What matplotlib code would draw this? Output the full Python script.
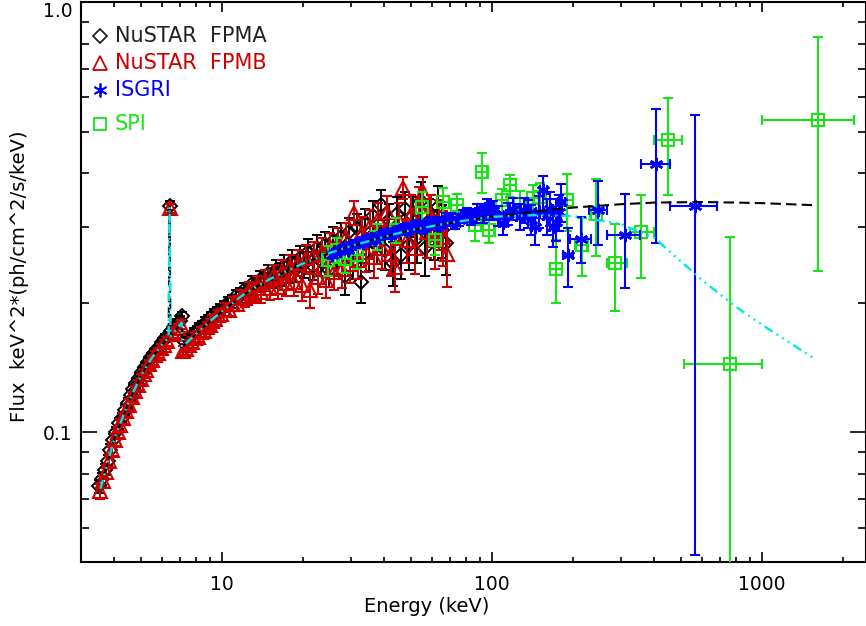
import numpy as np
import matplotlib
matplotlib.use("Agg")
import matplotlib.pyplot as plt
from matplotlib.ticker import FixedLocator, LogLocator, FuncFormatter, NullFormatter

plt.rcParams['font.family'] = 'DejaVu Sans'

# NuSTAR FPMA
fpma_e = [3.50, 3.59, 3.68, 3.77, 3.86, 3.96, 4.06, 4.16, 4.26, 4.37,
          4.48, 4.59, 4.70, 4.82, 4.94, 5.07, 5.19, 5.32, 5.46, 5.59,
          5.73, 5.88, 6.02, 6.17, 6.40, 6.49, 6.65, 6.81, 6.98, 7.10,
          7.30, 7.48, 7.67, 7.86, 8.06, 8.26, 8.47, 8.68, 8.90, 9.12,
          9.35, 9.58, 9.82,
          10.16, 10.52, 10.88, 11.26, 11.66, 12.07, 12.49, 12.93, 13.38, 13.85,
          14.33, 14.83, 15.35, 15.89, 16.45, 17.02, 17.62, 18.23, 18.87, 19.53,
          20.22, 20.92, 21.66, 22.41, 23.20, 24.01, 24.85, 25.72, 26.62, 27.55,
          28.52, 29.51, 30.55, 31.62, 32.72, 33.87, 35.05, 36.28, 37.55, 38.87,
          40.23, 41.63, 43.09, 44.60, 46.16, 47.78, 49.45, 51.18, 52.97, 54.82,
          56.74, 58.73, 60.78, 62.91, 65.11, 67.39]
fpma_f = [0.075, 0.078, 0.082, 0.086, 0.091, 0.096, 0.100, 0.105, 0.108, 0.113,
          0.117, 0.122, 0.126, 0.130, 0.134, 0.138, 0.142, 0.146, 0.150, 0.153,
          0.156, 0.159, 0.162, 0.166, 0.336, 0.172, 0.176, 0.179, 0.182, 0.186,
          0.162, 0.165, 0.167, 0.170, 0.172, 0.175, 0.177, 0.180, 0.182, 0.185,
          0.188, 0.190, 0.193,
          0.196, 0.200, 0.202, 0.207, 0.208, 0.214, 0.213, 0.221, 0.219, 0.226,
          0.224, 0.233, 0.228, 0.239, 0.233, 0.244, 0.237, 0.250, 0.240, 0.254,
          0.246, 0.263, 0.244, 0.268, 0.250, 0.272, 0.238, 0.279, 0.252, 0.284,
          0.231, 0.292, 0.250, 0.298, 0.224, 0.305, 0.262, 0.318, 0.272, 0.338,
          0.266, 0.312, 0.248, 0.322, 0.258, 0.330, 0.272, 0.318, 0.283, 0.345,
          0.268, 0.310, 0.290, 0.334, 0.296, 0.276]
fpma_err = [0.0025, 0.0025, 0.0025, 0.0025, 0.003, 0.003, 0.003, 0.003, 0.003, 0.003,
            0.003, 0.003, 0.003, 0.003, 0.003, 0.003, 0.003, 0.003, 0.003, 0.003,
            0.003, 0.003, 0.0035, 0.0035, 0.008, 0.0035, 0.0035, 0.004, 0.004, 0.004,
            0.004, 0.004, 0.004, 0.0045, 0.0045, 0.0045, 0.005, 0.005, 0.005, 0.005,
            0.0055, 0.0055, 0.006,
            0.006, 0.0065, 0.007, 0.0075, 0.008, 0.0085, 0.009, 0.0095, 0.010, 0.011,
            0.011, 0.012, 0.012, 0.013, 0.014, 0.014, 0.015, 0.016, 0.016, 0.017,
            0.017, 0.018, 0.018, 0.019, 0.019, 0.020, 0.020, 0.021, 0.021, 0.022,
            0.022, 0.023, 0.023, 0.024, 0.024, 0.025, 0.025, 0.026, 0.026, 0.027,
            0.027, 0.028, 0.029, 0.030, 0.031, 0.032, 0.033, 0.034, 0.035, 0.036,
            0.037, 0.038, 0.039, 0.040, 0.042, 0.044]

# NuSTAR FPMB
fpmb_e = [3.54, 3.63, 3.72, 3.82, 3.91, 4.01, 4.11, 4.21, 4.31, 4.42,
          4.53, 4.65, 4.76, 4.88, 5.00, 5.13, 5.25, 5.39, 5.52, 5.66,
          5.80, 5.95, 6.09, 6.24, 6.40, 6.57, 6.73, 6.89, 7.06, 7.20,
          7.39, 7.57, 7.76, 7.96, 8.16, 8.36, 8.57, 8.78, 9.01, 9.23,
          9.46, 9.70, 9.94,
          10.28, 10.64, 11.01, 11.40, 11.80, 12.21, 12.64, 13.08, 13.54, 14.01,
          14.50, 15.01, 15.54, 16.08, 16.64, 17.23, 17.83, 18.45, 19.10, 19.77,
          20.46, 21.17, 21.92, 22.68, 23.48, 24.30, 25.15, 26.03, 26.94, 27.88,
          28.86, 29.87, 30.91, 31.99, 33.11, 34.28, 35.47, 36.71, 38.00, 39.33,
          40.71, 42.13, 43.61, 45.13, 46.71, 48.35, 50.04, 51.79, 53.60, 55.48,
          57.42, 59.43, 61.51, 63.66, 65.89, 68.20]
fpmb_f = [0.073, 0.077, 0.081, 0.086, 0.091, 0.096, 0.100, 0.104, 0.108, 0.112,
          0.116, 0.121, 0.125, 0.129, 0.133, 0.137, 0.140, 0.144, 0.147, 0.151,
          0.153, 0.157, 0.160, 0.163, 0.332, 0.169, 0.172, 0.175, 0.178, 0.155,
          0.156, 0.160, 0.162, 0.166, 0.167, 0.171, 0.172, 0.176, 0.178, 0.182,
          0.183, 0.187, 0.188,
          0.193, 0.193, 0.199, 0.199, 0.206, 0.205, 0.214, 0.210, 0.220, 0.212,
          0.226, 0.216, 0.232, 0.218, 0.236, 0.222, 0.242, 0.224, 0.248, 0.220,
          0.254, 0.214, 0.258, 0.230, 0.263, 0.226, 0.270, 0.236, 0.276, 0.240,
          0.284, 0.246, 0.324, 0.252, 0.292, 0.262, 0.302, 0.255, 0.314, 0.268,
          0.326, 0.260, 0.242, 0.310, 0.370, 0.280, 0.322, 0.268, 0.336, 0.362,
          0.292, 0.318, 0.280, 0.306, 0.285, 0.260]
fpmb_err = [0.0028, 0.0028, 0.003, 0.003, 0.003, 0.003, 0.003, 0.0032, 0.0032, 0.0032,
            0.0034, 0.0034, 0.0034, 0.0035, 0.0035, 0.0035, 0.0036, 0.0036, 0.0036, 0.0037,
            0.0037, 0.0038, 0.0038, 0.0039, 0.008, 0.004, 0.004, 0.004, 0.0042, 0.0042,
            0.0044, 0.0044, 0.0046, 0.0046, 0.0048, 0.0048, 0.005, 0.005, 0.0052, 0.0054,
            0.0056, 0.0058, 0.006,
            0.0065, 0.007, 0.0075, 0.008, 0.0085, 0.009, 0.0095, 0.010, 0.011, 0.012,
            0.012, 0.013, 0.013, 0.014, 0.015, 0.015, 0.016, 0.017, 0.017, 0.018,
            0.018, 0.019, 0.019, 0.020, 0.020, 0.021, 0.021, 0.022, 0.022, 0.023,
            0.023, 0.024, 0.021, 0.025, 0.025, 0.026, 0.026, 0.027, 0.027, 0.028,
            0.028, 0.029, 0.030, 0.031, 0.022, 0.033, 0.034, 0.035, 0.036, 0.030,
            0.038, 0.039, 0.040, 0.041, 0.042, 0.042]

# INTEGRAL ISGRI
isgri_e = [25.5, 26.4, 27.3, 28.2, 29.2, 30.2, 31.2, 32.3, 33.4, 34.5,
           35.7, 36.9, 38.2, 39.5, 40.9, 42.3, 43.8, 45.3, 46.9, 48.5,
           50.2, 51.9, 53.7, 55.6, 57.5, 59.5, 61.5, 63.6, 65.8, 68.0,
           70.4, 72.8, 75.3, 77.9, 80.6, 83.4, 86.2, 88.3, 90.5, 93.0,
           95.8, 98.2, 101, 105, 110, 115, 120, 127, 131, 136,
           140, 145, 150, 155, 160, 164, 168, 173, 177, 181,
           192, 214, 248, 312, 405, 566]
isgri_f = [0.258, 0.262, 0.264, 0.268, 0.266, 0.272, 0.274, 0.277, 0.276, 0.281,
           0.283, 0.280, 0.286, 0.289, 0.291, 0.287, 0.292, 0.296, 0.298, 0.294,
           0.299, 0.303, 0.303, 0.298, 0.304, 0.309, 0.309, 0.303, 0.308, 0.314,
           0.313, 0.307, 0.312, 0.318, 0.322, 0.315, 0.318, 0.326, 0.326, 0.320,
           0.334, 0.327, 0.328, 0.318, 0.306, 0.322, 0.331, 0.317, 0.329, 0.322,
           0.312, 0.300, 0.326, 0.365, 0.318, 0.331, 0.300, 0.308, 0.325, 0.343,
           0.258, 0.282, 0.328, 0.287, 0.420, 0.335]
isgri_lo = [0.004, 0.004, 0.004, 0.004, 0.004, 0.005, 0.005, 0.005, 0.005, 0.005,
            0.005, 0.005, 0.005, 0.006, 0.006, 0.006, 0.006, 0.006, 0.006, 0.007,
            0.007, 0.007, 0.007, 0.008, 0.008, 0.008, 0.008, 0.009, 0.009, 0.009,
            0.010, 0.010, 0.010, 0.011, 0.011, 0.012, 0.012, 0.013, 0.013, 0.014,
            0.014, 0.015, 0.016, 0.017, 0.018, 0.019, 0.020, 0.022, 0.022, 0.024,
            0.025, 0.027, 0.028, 0.040, 0.030, 0.030, 0.030, 0.030, 0.032, 0.034,
            0.040, 0.035, 0.056, 0.070, 0.145, 0.283]
isgri_hi = [0.004, 0.004, 0.004, 0.004, 0.004, 0.005, 0.005, 0.005, 0.005, 0.005,
            0.005, 0.005, 0.005, 0.006, 0.006, 0.006, 0.006, 0.006, 0.006, 0.007,
            0.007, 0.007, 0.007, 0.008, 0.008, 0.008, 0.008, 0.009, 0.009, 0.009,
            0.010, 0.010, 0.010, 0.011, 0.011, 0.012, 0.012, 0.013, 0.013, 0.014,
            0.014, 0.015, 0.016, 0.017, 0.018, 0.019, 0.020, 0.022, 0.022, 0.024,
            0.025, 0.027, 0.028, 0.030, 0.030, 0.030, 0.030, 0.040, 0.032, 0.034,
            0.040, 0.035, 0.056, 0.072, 0.143, 0.211]
isgri_xlo = [0.4, 0.4, 0.4, 0.5, 0.5, 0.5, 0.5, 0.5, 0.5, 0.6,
             0.6, 0.6, 0.6, 0.6, 0.7, 0.7, 0.7, 0.7, 0.8, 0.8,
             0.8, 0.8, 0.9, 0.9, 0.9, 1.0, 1.0, 1.0, 1.1, 1.1,
             1.1, 1.2, 1.2, 1.3, 1.3, 1.4, 1.4, 1.4, 1.5, 1.5,
             1.6, 1.6, 1.7, 2.0, 2.5, 2.5, 3.0, 3.0, 3.0, 3.5,
             3.5, 4.0, 4.0, 4.5, 4.5, 4.5, 4.5, 5.0, 5.0, 5.0,
             8.0, 19, 19, 44, 49, 110]
isgri_xhi = [0.4, 0.4, 0.4, 0.5, 0.5, 0.5, 0.5, 0.5, 0.5, 0.6,
             0.6, 0.6, 0.6, 0.6, 0.7, 0.7, 0.7, 0.7, 0.8, 0.8,
             0.8, 0.8, 0.9, 0.9, 0.9, 1.0, 1.0, 1.0, 1.1, 1.1,
             1.1, 1.2, 1.2, 1.3, 1.3, 1.4, 1.4, 1.4, 1.5, 1.5,
             1.6, 1.6, 1.7, 2.0, 2.5, 2.5, 3.0, 3.0, 3.0, 3.5,
             3.5, 4.0, 4.0, 4.5, 4.5, 4.5, 4.5, 5.0, 5.0, 5.0,
             8.0, 18, 20, 42, 53, 117]

# INTEGRAL SPI
spi_e = [24.8, 26.6, 28.6, 31.6, 37.4, 44.3, 55.0, 61.6, 66.0, 74.5, 86.7, 91.7, 97.3, 108.7,
         116.7, 127, 142, 151, 173, 190, 215, 244, 286, 357, 450, 760, 1620]
spi_f = [0.251, 0.265, 0.253, 0.258, 0.285, 0.295, 0.334, 0.280, 0.343, 0.337, 0.303, 0.403, 0.295, 0.346,
         0.375, 0.340, 0.350, 0.352, 0.240, 0.346, 0.273, 0.322, 0.248, 0.292, 0.477, 0.144, 0.533]
spi_err = [0.020, 0.018, 0.018, 0.018, 0.020, 0.020, 0.028, 0.022, 0.026, 0.022, 0.025, 0.043, 0.020, 0.022,
           0.022, 0.024, 0.026, 0.028, 0.040, 0.053, 0.042, 0.065, 0.057, 0.064, 0.120, 0.140, 0.296]
spi_xlo = [1.2, 1.3, 1.4, 1.6, 1.9, 2.2, 2.8, 3.0, 3.3, 3.7, 4.3, 4.6, 4.8, 5.4,
           5.8, 6.3, 7.0, 7.5, 8.6, 9.5, 11, 12, 20, 32, 50, 244, 620]
spi_xhi = [1.2, 1.3, 1.4, 1.6, 1.9, 2.2, 2.8, 3.0, 3.3, 3.7, 4.3, 4.6, 4.8, 5.4,
           5.8, 6.3, 7.0, 7.5, 8.6, 9.5, 11, 12, 30, 43, 55, 240, 570]

# models
model_e = [3.55, 4.0, 4.5, 5.0, 5.5, 6.0, 6.35, 6.40, 6.45, 7.0, 7.1, 7.12, 8.0, 9.0, 10, 12, 15,
           20, 25, 30, 40, 50, 70, 100, 150, 200, 300, 400, 600, 800, 1000, 1600]
model1_f = [0.074, 0.097, 0.117, 0.135, 0.149, 0.160, 0.166, 0.335, 0.167, 0.178, 0.180, 0.158, 0.169,
            0.181, 0.191, 0.209, 0.227, 0.247, 0.261, 0.271, 0.285, 0.295, 0.307, 0.317, 0.327, 0.333,
            0.339, 0.342, 0.343, 0.342, 0.341, 0.337]
model2_e = model_e[:-1] + [1550]
model2_f = [0.074, 0.097, 0.117, 0.135, 0.149, 0.160, 0.166, 0.335, 0.167, 0.178, 0.180, 0.158, 0.169,
            0.181, 0.191, 0.209, 0.227, 0.247, 0.261, 0.271, 0.285, 0.295, 0.307, 0.317, 0.320, 0.318,
            0.305, 0.283, 0.226, 0.196, 0.178, 0.149]

red = '#cc0000'
blue = '#0000ff'
green = '#18e418'
cyan = '#00e5ee'

fig = plt.figure(figsize=(8.66, 6.26), dpi=100)
ax = fig.add_axes([0.0932, 0.1022, 0.9068, 0.8946])

ax.errorbar(fpma_e, fpma_f, yerr=fpma_err, fmt='D', ms=7.5, mfc='none', mec='black', mew=1.4,
            ecolor='black', elinewidth=1.4, capsize=3.5, capthick=1.4, zorder=2)
ax.errorbar(fpmb_e, fpmb_f, yerr=fpmb_err, fmt='^', ms=10, mfc='none', mec=red, mew=1.5,
            ecolor=red, elinewidth=1.4, capsize=3.5, capthick=1.4, zorder=3)
ax.errorbar(spi_e, spi_f, yerr=spi_err, xerr=[spi_xlo, spi_xhi], fmt='s', ms=8.5, mfc='none',
            mec=green, mew=1.5, ecolor=green, elinewidth=1.5, capsize=3.5, capthick=1.5, zorder=4)
ax.errorbar(isgri_e, isgri_f, yerr=[isgri_lo, isgri_hi], xerr=[isgri_xlo, isgri_xhi], fmt='none',
            ecolor=blue, elinewidth=1.5, capsize=3.5, capthick=1.5, zorder=5)
ax.plot(isgri_e, isgri_f, ls='none', marker=(6, 2, 0), ms=9.5, mec=blue, mew=1.8, zorder=5)

ax.plot(model_e, model1_f, color='black', lw=1.5, dashes=(5, 2.5), zorder=6)
ax.plot(model2_e, model2_f, color=cyan, lw=1.7, dashes=(4, 2, 0.8, 2, 0.8, 2, 0.8, 2), zorder=7)

ax.set_xscale('log')
ax.set_yscale('log')
ax.set_xlim(3.0, 2430)
ax.set_ylim(0.05, 1.0)

ax.xaxis.set_major_locator(FixedLocator([10, 100, 1000]))
ax.xaxis.set_major_formatter(FuncFormatter(lambda v, p: '%g' % v))
ax.xaxis.set_minor_locator(LogLocator(base=10, subs=range(2, 10)))
ax.xaxis.set_minor_formatter(NullFormatter())
ax.yaxis.set_major_locator(FixedLocator([0.1, 1.0]))
ax.yaxis.set_major_formatter(FuncFormatter(lambda v, p: '%.1f' % v))
ax.yaxis.set_minor_locator(LogLocator(base=10, subs=range(2, 10)))
ax.yaxis.set_minor_formatter(NullFormatter())

ax.tick_params(which='both', direction='in', top=True, right=True, width=1.2, labelsize=13.5)
ax.tick_params(axis='x', which='major', length=7.2, pad=9)
ax.tick_params(axis='x', which='minor', length=3.6)
ax.tick_params(axis='y', which='major', length=11.5, pad=6)
ax.tick_params(axis='y', which='minor', length=5.8)
for s in ax.spines.values():
    s.set_linewidth(1.5)

fig.canvas.draw()
for lab in ax.get_yticklabels():
    if lab.get_text() == '1.0':
        lab.set_verticalalignment('top')

fig.text(427 / 866, 1 - 607 / 626, 'Energy (keV)', ha='center', va='center', fontsize=14)
fig.text(20 / 866, 1 - 276 / 626, 'Flux  keV^2*(ph/cm^2/s/keV)', ha='center', va='center',
         rotation=90, fontsize=14)

# legend
leg_names = ['NuSTAR  FPMA', 'NuSTAR  FPMB', 'ISGRI', 'SPI']
leg_colors = ['#222222', red, blue, green]
leg_y = [0.939, 0.891, 0.843, 0.782]
leg_mk = [('D', 7.5), ('^', 10), ((6, 2, 0), 10), ('s', 9)]
for name, c, yy, (m, sz) in zip(leg_names, leg_colors, leg_y, leg_mk):
    ax.plot([0.0246], [yy], transform=ax.transAxes, marker=m, ms=sz, mfc='none', mec=c,
            mew=1.3, ls='none', clip_on=False)
    ax.text(0.0438, yy, name, transform=ax.transAxes, color=c, fontsize=15, va='center', ha='left')

fig.savefig('out.png', dpi=100)
